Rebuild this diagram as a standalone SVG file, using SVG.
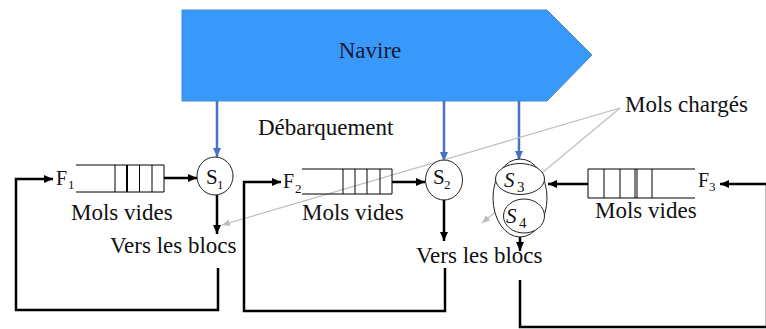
<svg xmlns="http://www.w3.org/2000/svg" width="766" height="329" viewBox="0 0 766 329">
<style>
text{font-family:'Liberation Serif',serif;fill:#111}
.lbl{font-size:23px}
.sub{font-size:13px}
.blk{stroke:#000;stroke-width:2.5;fill:none}
.blue{stroke:#4472c4;stroke-width:2.5;fill:none}
.grey{stroke:#bdbdbd;stroke-width:1.2;fill:none}
.ql{stroke:#000;stroke-width:1;fill:none}
.node{fill:#fff;stroke:#222;stroke-width:1}
</style>
<defs>
<marker id="ab" markerUnits="userSpaceOnUse" markerWidth="10" markerHeight="10" refX="9" refY="5" orient="auto"><path d="M0,1 L9,5 L0,9 z" fill="#000"/></marker>
<marker id="au" markerUnits="userSpaceOnUse" markerWidth="10" markerHeight="10" refX="9" refY="5" orient="auto"><path d="M0,1 L9,5 L0,9 z" fill="#4472c4"/></marker>
<marker id="ag" markerUnits="userSpaceOnUse" markerWidth="10" markerHeight="10" refX="8" refY="5" orient="auto"><path d="M0,1.5 L8,5 L0,8.5 z" fill="#bdbdbd"/></marker>
</defs>

<g id="navire">
<polygon points="182,10 547,10 592,55 547,101 182,101" fill="#3899fb" stroke="#4a86c8" stroke-width="1"/>
<text x="370" y="58" text-anchor="middle" class="lbl" style="fill:#1a1a33">Navire</text>
</g>
<text id="debarquement" class="lbl" x="258" y="135">Débarquement</text>
<text id="mols-charges" class="lbl" x="625" y="112">Mols chargés</text>

<g id="connectors">
<line class="blue" x1="217" y1="101" x2="217" y2="157" marker-end="url(#au)"/>
<line class="blue" x1="444" y1="101" x2="444" y2="161" marker-end="url(#au)"/>
<line class="blue" x1="519" y1="101" x2="519" y2="160" marker-end="url(#au)"/>
<line class="grey" x1="620" y1="108" x2="222" y2="225" marker-end="url(#ag)"/>
<line class="grey" x1="620" y1="108" x2="482" y2="223" marker-end="url(#ag)"/>
<line class="blk" x1="164" y1="178" x2="197" y2="178" marker-end="url(#ab)"/>
<line class="blk" x1="392" y1="182" x2="425" y2="182" marker-end="url(#ab)"/>
<line class="blk" x1="588" y1="184" x2="548" y2="184" marker-end="url(#ab)"/>
<line class="blk" x1="217" y1="195" x2="217" y2="234" marker-end="url(#ab)"/>
<line class="blk" x1="444" y1="200" x2="444" y2="241" marker-end="url(#ab)"/>
<line class="blk" x1="520" y1="237" x2="520" y2="251" marker-end="url(#ab)"/>
<polyline class="blk" points="218,268 218,310 16,310 16,179 53,179" marker-end="url(#ab)"/>
<polyline class="blk" points="445,268 445,311 244,311 244,182 281,182" marker-end="url(#ab)"/>
<polyline class="blk" points="520,280 520,327 767,327 767,184 720,184" marker-end="url(#ab)"/>
</g>

<g id="queue-F1">
<path class="ql" d="M76,165 H164 V192 H76 M115,165 V192 M127,165 V192 M139.5,165 V192 M152,165 V192"/>
<path d="M127,165 V192" stroke="#000" stroke-width="2"/>
<text x="56" y="185" font-size="20">F</text><text class="sub" x="68" y="189">1</text>
<text class="lbl" x="71" y="220">Mols vides</text>
</g>
<g id="queue-F2">
<path class="ql" d="M302,169 H392 V194 H302 M343,169 V194 M355,169 V194 M367,169 V194 M380,169 V194"/>
<text x="283" y="188" font-size="20">F</text><text class="sub" x="295" y="193">2</text>
<text class="lbl" x="302" y="220">Mols vides</text>
</g>
<g id="queue-F3">
<path class="ql" d="M695,169 H588 V198 H695 M604,169 V198 M620,169 V198 M635,169 V198 M637,169 V198 M652,169 V198"/>
<text x="698" y="187" font-size="20">F</text><text class="sub" x="709" y="191">3</text>
<text class="lbl" x="595" y="218">Mols vides</text>
</g>

<g id="S1">
<ellipse class="node" cx="215" cy="176" rx="18" ry="19"/>
<text x="206" y="184" font-size="21">S</text><text class="sub" x="217" y="189">1</text>
</g>
<g id="S2">
<ellipse class="node" cx="444" cy="180" rx="18.5" ry="20"/>
<text x="433" y="184" font-size="21">S</text><text class="sub" x="444" y="189">2</text>
</g>
<g id="S3S4">
<ellipse class="node" cx="520" cy="198" rx="27" ry="39"/>
<ellipse class="node" cx="520" cy="179" rx="24.5" ry="15.5"/>
<ellipse class="node" cx="524" cy="216" rx="20.5" ry="17"/>
<text x="504" y="187" font-size="21" font-style="italic">S</text><text x="517" y="192" font-size="15">3</text>
<text x="506" y="223" font-size="21" font-style="italic">S</text><text x="519" y="228" font-size="15">4</text>
</g>

<text id="blocs-1" class="lbl" x="110" y="253">Vers les blocs</text>
<text id="blocs-2" class="lbl" x="416" y="263">Vers les blocs</text>
</svg>
